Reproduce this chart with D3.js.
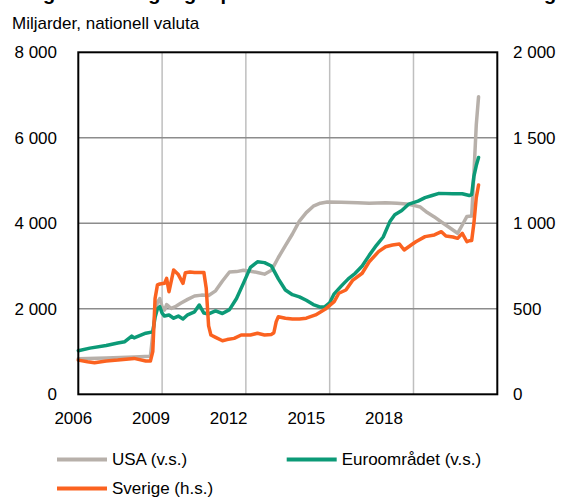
<!DOCTYPE html>
<html>
<head>
<meta charset="utf-8">
<script src="https://cdn.jsdelivr.net/npm/d3@7"></script>
<style>
  body { margin: 0; background: #fff; }
  text { font-family: "Liberation Sans", Arial, sans-serif; fill: #000; }
</style>
</head>
<body>
<div id="chart"></div>
<script>
var width = 562,
    height = 499;

// USA, miljarder USD (v.s.)
var usaDates = ["2006-01","2007-01","2008-01","2008-08","2008-09","2008-10","2008-11","2008-12",
  "2009-01","2009-02","2009-03","2009-04","2009-05","2009-07","2009-09","2009-12",
  "2010-03","2010-06","2010-09","2010-12","2011-03","2011-06","2011-09","2011-12",
  "2012-03","2012-06","2012-09","2012-12","2013-03","2013-06","2013-09","2013-12",
  "2014-03","2014-06","2014-09","2014-12","2015-06","2016-01","2016-06","2017-01",
  "2017-06","2017-10","2018-01","2018-04","2018-07","2018-10","2019-01","2019-04",
  "2019-08","2019-10","2019-12","2020-02","2020-03","2020-04","2020-05"];
var usaValues = [830,850,870,890,1400,1900,2150,2240,
  2050,1970,2100,2050,2010,2060,2130,2220,
  2300,2320,2310,2420,2650,2860,2870,2900,
  2880,2850,2810,2900,3200,3480,3750,4050,
  4250,4400,4470,4500,4490,4480,4470,4480,
  4470,4450,4420,4380,4250,4150,4030,3920,
  3766,3960,4160,4170,5150,6300,6960];

// Euroområdet, miljarder EUR (v.s.)
var euroDates = ["2006-01","2006-06","2007-01","2007-06","2007-09","2007-12","2008-01","2008-06",
  "2008-09","2008-10","2008-11","2008-12","2009-01","2009-02","2009-04","2009-06",
  "2009-08","2009-10","2009-12","2010-03","2010-05","2010-07","2010-09","2010-12",
  "2011-03","2011-06","2011-09","2011-12","2012-03","2012-06","2012-09","2012-12",
  "2013-03","2013-06","2013-09","2013-12","2014-03","2014-06","2014-09","2014-11",
  "2015-01","2015-03","2015-06","2015-09","2015-12","2016-03","2016-06","2016-09",
  "2016-12","2017-03","2017-05","2017-08","2017-11","2018-03","2018-06","2018-09",
  "2018-12","2019-06","2019-10","2020-01","2020-02","2020-03","2020-04","2020-05"];
var euroValues = [1020,1080,1140,1200,1230,1360,1320,1430,
  1460,1800,2000,2050,1900,1830,1855,1780,
  1830,1760,1860,1930,2089,1900,1880,1950,
  1890,1980,2240,2600,2970,3100,3080,3000,
  2700,2440,2330,2280,2200,2100,2040,2050,
  2140,2350,2530,2700,2830,3000,3250,3480,
  3680,4050,4200,4300,4450,4520,4600,4650,
  4700,4690,4690,4650,4670,5100,5350,5540];

// Sverige, miljarder SEK (h.s.)
var sweDates = ["2006-01","2006-05","2006-08","2007-01","2007-06","2008-01","2008-06","2008-08",
  "2008-09","2008-10","2008-11","2008-12","2009-02","2009-03","2009-04","2009-06",
  "2009-08","2009-10","2009-11","2010-01","2010-03","2010-07","2010-08","2010-09",
  "2010-10","2010-12","2011-03","2011-05","2011-08","2011-11","2012-03","2012-06",
  "2012-09","2012-12","2013-01","2013-02","2013-03","2013-06","2013-09","2013-12",
  "2014-03","2014-07","2014-11","2015-03","2015-05","2015-08","2015-11","2016-03",
  "2016-06","2016-10","2017-01","2017-04","2017-07","2017-09","2017-12","2018-02",
  "2018-06","2018-10","2019-01","2019-03","2019-06","2019-08","2019-10","2019-12",
  "2020-01","2020-02","2020-03","2020-04","2020-05"];
var sweValues = [200,190,185,195,200,210,195,195,
  250,560,640,645,649,678,600,727,
  700,649,711,715,712,713,620,400,
  347,333,313,320,327,347,347,357,
  347,350,360,425,454,445,440,440,
  445,464,497,542,591,610,668,708,
  775,834,863,873,879,844,873,892,
  922,932,951,926,920,912,941,892,
  898,900,1000,1150,1224];

var leftTicks = [0, 2000, 4000, 6000, 8000];
var rightTicks = [0, 500, 1000, 1500, 2000];
var yearTicks = [2006, 2009, 2012, 2015, 2018];
var gridYears = [2009, 2012, 2015, 2018];

var series = [
  { name: "USA (v.s.)", dates: usaDates, values: usaValues, axis: "left", color: "#b7b0aa" },
  { name: "Euroområdet (v.s.)", dates: euroDates, values: euroValues, axis: "left", color: "#0c9a77" },
  { name: "Sverige (h.s.)", dates: sweDates, values: sweValues, axis: "right", color: "#fb6220" }
];

var parseMonth = d3.timeParse("%Y-%m");
var sv = d3.formatLocale({ decimal: ",", thousands: "\u00a0", grouping: [3], currency: ["", ""] });
var fmt = sv.format(",");

var plot = { left: 78.3, right: 497.3, top: 52.3, bottom: 394.3 };

var x = d3.scaleTime()
    .domain([new Date(2006, 0, 1), new Date(2021, 0, 1)])
    .range([plot.left, plot.right]);
var yLeft = d3.scaleLinear().domain([0, 8000]).range([plot.bottom, plot.top]);
var yRight = d3.scaleLinear().domain([0, 2000]).range([plot.bottom, plot.top]);
// year labels sit slightly left of their gridlines in the original
var xLabel = d3.scaleLinear().domain([2006, 2018]).range([73.3, 384]);

var svg = d3.select("#chart").append("svg")
    .attr("width", width)
    .attr("height", height);

// title, cut off at the top edge like in the original
svg.append("text")
    .attr("x", 12)
    .attr("y", -0.5)
    .style("font-size", "20px")
    .style("font-weight", "bold")
    .text("Diagram 2. Tillgångar på centralbankernas balansräkningar");

svg.append("text")
    .attr("x", 12)
    .attr("y", 29)
    .style("font-size", "17px")
    .text("Miljarder, nationell valuta");

// gridlines
svg.append("g")
  .selectAll("line")
    .data(gridYears)
    .enter()
    .append("line")
    .attr("x1", function(d) { return x(new Date(d, 0, 1)); })
    .attr("x2", function(d) { return x(new Date(d, 0, 1)); })
    .attr("y1", plot.top)
    .attr("y2", plot.bottom)
    .attr("stroke", "#bfbfbf")
    .attr("stroke-width", 1.5);

svg.append("g")
  .selectAll("line")
    .data(leftTicks.slice(1, -1))
    .enter()
    .append("line")
    .attr("x1", plot.left)
    .attr("x2", plot.right)
    .attr("y1", yLeft)
    .attr("y2", yLeft)
    .attr("stroke", "#8c8c8c")
    .attr("stroke-width", 1.5);

// lines
series.forEach(function(s) {
  var yScale = s.axis == "left" ? yLeft : yRight;
  var pts = s.dates.map(function(d, i) { return [parseMonth(d), s.values[i]]; });
  svg.append("path")
      .datum(pts)
      .attr("fill", "none")
      .attr("stroke", s.color)
      .attr("stroke-width", 3.5)
      .attr("stroke-linejoin", "round")
      .attr("stroke-linecap", "round")
      .attr("d", d3.line()
          .x(function(d) { return x(d[0]); })
          .y(function(d) { return yScale(d[1]); }));
});

// frame
svg.append("rect")
    .attr("x", plot.left)
    .attr("y", plot.top)
    .attr("width", plot.right - plot.left)
    .attr("height", plot.bottom - plot.top)
    .attr("fill", "none")
    .attr("stroke", "#000")
    .attr("stroke-width", 2);

// axis labels
svg.append("g")
  .selectAll("text")
    .data(leftTicks)
    .enter()
    .append("text")
    .attr("x", 57)
    .attr("y", yLeft)
    .attr("dy", "0.35em")
    .attr("text-anchor", "end")
    .style("font-size", "17px")
    .text(function(d) { return fmt(d); });

svg.append("g")
  .selectAll("text")
    .data(rightTicks)
    .enter()
    .append("text")
    .attr("x", 513)
    .attr("y", yRight)
    .attr("dy", "0.35em")
    .style("font-size", "17px")
    .text(function(d) { return fmt(d); });

svg.append("g")
  .selectAll("text")
    .data(yearTicks)
    .enter()
    .append("text")
    .attr("x", xLabel)
    .attr("y", 424)
    .attr("text-anchor", "middle")
    .style("font-size", "17px")
    .text(function(d) { return d; });

// legend
var legendPos = [[57, 459.5], [286.7, 459.5], [57, 488.5]];
var legend = svg.append("g")
  .selectAll("g")
    .data(series)
    .enter()
    .append("g")
    .attr("transform", function(d, i) { return "translate(" + legendPos[i][0] + "," + legendPos[i][1] + ")"; });

legend.append("line")
    .attr("x1", 0)
    .attr("x2", 50)
    .attr("stroke", function(d) { return d.color; })
    .attr("stroke-width", 4);

legend.append("text")
    .attr("x", 55)
    .attr("dy", "0.35em")
    .style("font-size", "17px")
    .text(function(d) { return d.name; });
</script>
</body>
</html>
